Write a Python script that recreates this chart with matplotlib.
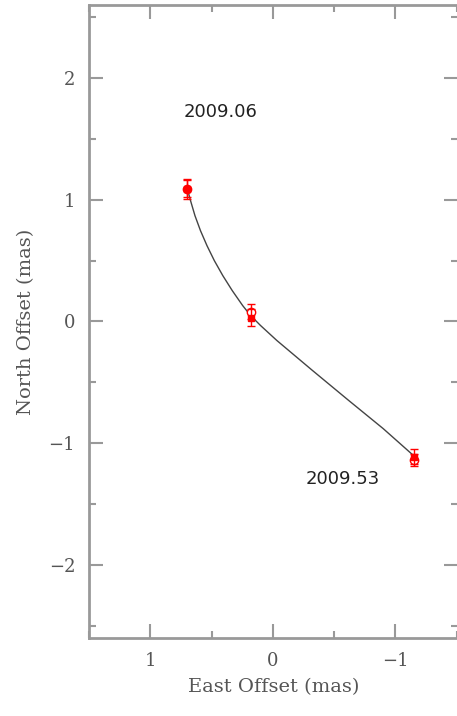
import matplotlib.pyplot as plt
from matplotlib.ticker import MultipleLocator

# measured positions (mas)
east_sq = [0.70, 0.18, -1.15]
north_sq = [1.09, 0.03, -1.11]
east_ci = [0.70, 0.18, -1.15]
north_ci = [1.09, 0.08, -1.14]
err_sq = [0.08, 0.07, 0.06]
err_ci = [0.07, 0.06, 0.05]

# model orbit
curve_e = [0.700, 0.672, 0.636, 0.591, 0.538, 0.478, 0.409, 0.332, 0.247,
           0.182, 0.101, -0.032, -0.32, -0.62, -0.90, -1.154]
curve_n = [1.098, 0.992, 0.869, 0.746, 0.623, 0.500, 0.377, 0.254, 0.131,
           0.049, -0.033, -0.156, -0.40, -0.65, -0.88, -1.107]

labels = ['2009.06', '2009.53']
label_pos = [(0.43, 1.725), (-0.57, -1.295)]

grey = '#555555'
plt.rcParams['font.family'] = 'DejaVu Serif'

fig = plt.figure(figsize=(4.57, 7.16), dpi=100)
ax = fig.add_axes([0.195, 0.109, 0.807, 0.884])

ax.plot(curve_e, curve_n, color='#444444', lw=1.0, zorder=2)
ax.errorbar(east_ci, north_ci, yerr=err_ci, fmt='o', mfc='white', mec='red',
            ecolor='red', ms=6, mew=1, capsize=3, elinewidth=1, zorder=3)
ax.errorbar(east_sq, north_sq, yerr=err_sq, fmt='s', color='red', ms=5,
            capsize=3, elinewidth=1, zorder=4)

for t, (x, y) in zip(labels, label_pos):
    ax.text(x, y, t, fontsize=13, family='DejaVu Sans', color='#222222',
            ha='center', va='center')

ax.set_xlim(1.5, -1.51)
ax.set_ylim(-2.6, 2.6)
ax.xaxis.set_minor_locator(MultipleLocator(0.5))
ax.yaxis.set_minor_locator(MultipleLocator(0.5))
ax.set_xticks([1, 0, -1])
ax.set_xticklabels(['1', '0', '\u22121'])
ax.set_yticks([-2, -1, 0, 1, 2])
ax.set_yticklabels(['\u22122', '\u22121', '0', '1', '2'])
ax.tick_params(which='both', direction='in', top=True, right=True,
               color='#999999', width=1.5, labelsize=13, labelcolor=grey, pad=10)
ax.tick_params(which='major', length=10)
ax.tick_params(which='minor', length=5)
for s in ax.spines.values():
    s.set_color('#999999')
    s.set_linewidth(2)

ax.set_xlabel('East Offset (mas)', fontsize=14, color=grey, labelpad=6)
ax.set_ylabel('North Offset (mas)', fontsize=14, color=grey, labelpad=10)

fig.savefig('out.png', dpi=100)
